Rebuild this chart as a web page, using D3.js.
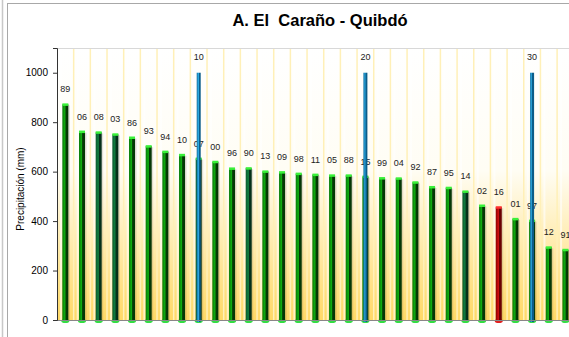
<!DOCTYPE html>
<html>
<head>
<meta charset="utf-8">
<script src="https://cdn.jsdelivr.net/npm/d3@7"></script>
<style>
  body { margin: 0; background: #fff; }
  svg { display: block; font-family: Arial, "Liberation Sans", sans-serif; }
</style>
</head>
<body>
<script>
// years (two digits), ordered by precipitation
var years = ["89","06","08","03","86","93","94","10","07","00","96","90","13","09","98",
             "11","05","88","15","99","04","92","87","95","14","02","16","01","97","12","91"]
// precipitation (mm)
var precip = [872,762,759,751,738,703,681,668,653,640,613,614,601,598,592,
              588,585,585,580,574,573,557,538,535,520,463,456,409,402,294,284]
// highlighted year (red bar)
var redYear = "16"
// bars drawn in the darker green
var darkYears = ["08","03","07","90","14"]
// percentile marks: label, year where the line stands, line height
var markLabels = ["10","20","30"]
var markYears = ["07","15","97"]
var markValue = 1000
var yTicks = [0,200,400,600,800,1000]

var w = 569;
var h = 337;
var margins = {left:57, right:-5, upper:48, lower:17}

var svg = d3.select("body")
            .append("svg")
            .attr("width", w)
            .attr("height", h);

var defs = svg.append("defs");

// plot background gradient
var bg = defs.append("linearGradient").attr("id", "bg")
             .attr("x1", 0).attr("y1", 0).attr("x2", 0).attr("y2", 1);
bg.append("stop").attr("offset", "0%").attr("stop-color", "#ffffff");
bg.append("stop").attr("offset", "45%").attr("stop-color", "#fffdf4");
bg.append("stop").attr("offset", "100%").attr("stop-color", "#ffd966");

// horizontal cylinder gradients for bars
function cyl(id, c1, c2, c3) {
  var g = defs.append("linearGradient").attr("id", id)
              .attr("x1", 0).attr("y1", 0).attr("x2", 1).attr("y2", 0);
  g.append("stop").attr("offset", "0%").attr("stop-color", c1);
  g.append("stop").attr("offset", "45%").attr("stop-color", c2);
  g.append("stop").attr("offset", "60%").attr("stop-color", c3);
  g.append("stop").attr("offset", "100%").attr("stop-color", c3);
}
cyl("green", "#0a7a0a", "#10b010", "#063806");
cyl("dark", "#0a5a30", "#108040", "#05301a");
cyl("red", "#8a0000", "#d01010", "#6a0000");
cyl("blue", "#1470a0", "#2aa8e0", "#0c5c88");

// outer frame
svg.append("line").attr("x1", 2.5).attr("x2", 2.5).attr("y1", 0).attr("y2", h)
   .attr("stroke", "#c8c8c8").attr("stroke-width", 1.5);
svg.append("rect").attr("x", 7.5).attr("y", 3.5).attr("width", w).attr("height", h)
   .attr("fill", "none").attr("stroke", "#a8a8a8").attr("stroke-width", 1);

// title
svg.append("text")
   .attr("x", 320).attr("y", 26)
   .attr("text-anchor", "middle")
   .style("font-size", "16.5px").style("font-weight", "bold")
   .style("white-space", "pre")
   .style("fill", "#000")
   .text("A. El  Caraño - Quibdó");

// scales
var xScale = d3.scaleBand()
               .domain(years)
               .range([margins.left, margins.left + 16.67 * years.length])
               .paddingInner(0).paddingOuter(0);
var yScale = d3.scaleLinear()
               .domain([0, 1100])
               .range([h - margins.lower, margins.upper]);

var plotW = xScale.range()[1] - margins.left;
var plotH = yScale(0) - margins.upper;

// background
svg.append("rect")
   .attr("x", margins.left).attr("y", margins.upper)
   .attr("width", plotW).attr("height", plotH)
   .attr("fill", "url(#bg)");

// light stripes inside each band
svg.selectAll(".stripe")
   .data(years)
   .enter()
   .append("rect")
   .attr("class", "stripe")
   .attr("x", function(d) { return xScale(d) + 3; })
   .attr("y", margins.upper)
   .attr("width", 2)
   .attr("height", plotH)
   .attr("fill", "#ffffff")
   .attr("opacity", 0.6);

// vertical gridlines at band edges
svg.selectAll(".grid")
   .data(years)
   .enter()
   .append("line")
   .attr("class", "grid")
   .attr("x1", function(d) { return xScale(d) + xScale.bandwidth(); })
   .attr("x2", function(d) { return xScale(d) + xScale.bandwidth(); })
   .attr("y1", margins.upper)
   .attr("y2", yScale(0))
   .attr("stroke", "#fff0b8")
   .attr("stroke-width", 1.5);

// plot top border
svg.append("line")
   .attr("x1", margins.left).attr("x2", w)
   .attr("y1", margins.upper + 0.5).attr("y2", margins.upper + 0.5)
   .attr("stroke", "#d8d8d8");

var barW = 6;
function cx(d) { return xScale(d) + xScale.bandwidth() / 2; }

var data = years.map(function(d, i) { return {year: d, value: precip[i]}; });

function barFill(d) {
  if (d.year === redYear) return "url(#red)";
  if (darkYears.indexOf(d.year) >= 0) return "url(#dark)";
  return "url(#green)";
}

// bar shadows
svg.selectAll(".shadow")
   .data(data)
   .enter()
   .append("rect")
   .attr("class", "shadow")
   .attr("x", function(d) { return cx(d.year) - barW / 2 + 1.5; })
   .attr("y", function(d) { return yScale(d.value) + 1; })
   .attr("width", barW)
   .attr("height", function(d) { return yScale(0) - yScale(d.value); })
   .attr("fill", "#000")
   .attr("opacity", 0.12);

// bars
var bars = svg.selectAll(".bar")
              .data(data)
              .enter()
              .append("g")
              .attr("class", "bar");

bars.append("ellipse")
    .attr("cx", function(d) { return cx(d.year); })
    .attr("cy", yScale(0) + 1)
    .attr("rx", barW / 2 + 1)
    .attr("ry", 2)
    .attr("fill", function(d) { return d.year === redYear ? "#e02020" : "#33dd44"; });

bars.append("rect")
    .attr("x", function(d) { return cx(d.year) - barW / 2; })
    .attr("y", function(d) { return yScale(d.value); })
    .attr("width", barW)
    .attr("height", function(d) { return yScale(0) - yScale(d.value); })
    .attr("fill", barFill);

bars.append("rect")
    .attr("x", function(d) { return cx(d.year) - barW / 2; })
    .attr("y", function(d) { return yScale(d.value) - 1; })
    .attr("width", barW)
    .attr("height", 2.5)
    .attr("fill", function(d) { return d.year === redYear ? "#ff3030" : "#3af03a"; });

// year labels above bars
svg.selectAll(".lab")
   .data(data)
   .enter()
   .append("text")
   .attr("class", "lab")
   .attr("x", function(d) { return cx(d.year); })
   .attr("y", function(d) { return yScale(d.value) - 12; })
   .attr("text-anchor", "middle")
   .style("font-size", "9px")
   .style("fill", "#222")
   .text(function(d) { return d.year; });

// percentile lines
var marks = markYears.map(function(d, i) { return {year: d, label: markLabels[i]}; });

svg.selectAll(".mark")
   .data(marks)
   .enter()
   .append("rect")
   .attr("class", "mark")
   .attr("x", function(d) { return cx(d.year) - 2; })
   .attr("y", yScale(markValue))
   .attr("width", 4)
   .attr("height", yScale(0) - yScale(markValue) + 2)
   .attr("fill", "url(#blue)");

svg.selectAll(".marklab")
   .data(marks)
   .enter()
   .append("text")
   .attr("class", "marklab")
   .attr("x", function(d) { return cx(d.year); })
   .attr("y", margins.upper + 12)
   .attr("text-anchor", "middle")
   .style("font-size", "9px")
   .style("fill", "#222")
   .text(function(d) { return d.label; });

// x axis line
svg.append("line")
   .attr("x1", margins.left).attr("x2", w)
   .attr("y1", yScale(0) + 0.5).attr("y2", yScale(0) + 0.5)
   .attr("stroke", "#888");

// y axis
var yAxis = svg.append("g")
               .attr("class", "yaxis")
               .attr("transform", "translate(" + margins.left + ",0)")
               .call(d3.axisLeft(yScale).tickValues(yTicks).tickFormat(d3.format("d"))
                       .tickSize(4).tickPadding(5));
yAxis.select(".domain").attr("stroke", "#333");
yAxis.selectAll(".tick line").attr("stroke", "#333");
yAxis.selectAll("text").style("font-size", "10px").style("fill", "#000")
     .style("font-family", "Arial, 'Liberation Sans', sans-serif");

// y axis label
svg.append("text")
   .attr("transform", "rotate(-90)")
   .attr("x", -189)
   .attr("y", 24)
   .attr("text-anchor", "middle")
   .style("font-size", "10px")
   .style("fill", "#000")
   .text("Precipitación (mm)");
</script>
</body>
</html>
